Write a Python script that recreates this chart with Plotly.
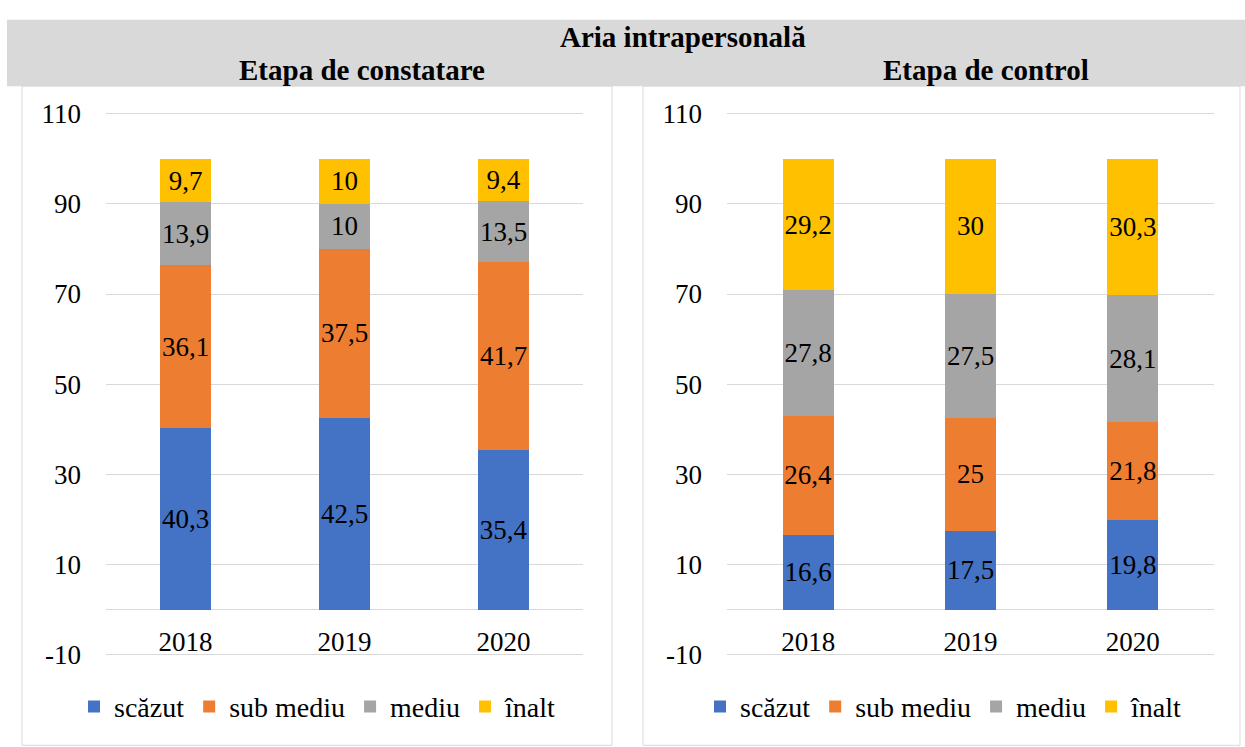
import plotly.graph_objects as go

years = ["2018", "2019", "2020"]
series = ["scăzut", "sub mediu", "mediu", "înalt"]
colors = ["#4472C4", "#ED7D31", "#A5A5A5", "#FFC000"]

constatare_scazut = [40.3, 42.5, 35.4]
constatare_sub_mediu = [36.1, 37.5, 41.7]
constatare_mediu = [13.9, 10, 13.5]
constatare_inalt = [9.7, 10, 9.4]

control_scazut = [16.6, 17.5, 19.8]
control_sub_mediu = [26.4, 25, 21.8]
control_mediu = [27.8, 27.5, 28.1]
control_inalt = [29.2, 30, 30.3]

title_main = "Aria intrapersonală"
title_left = "Etapa de constatare"
title_right = "Etapa de control"
y_ticks = [-10, 10, 30, 50, 70, 90, 110]
y_tick_labels = ["-10", "10", "30", "50", "70", "90", "110"]

W, H = 1245, 747
FONT = "Liberation Serif, Times New Roman, serif"
FS = 27


def px(x):
    return x / W


def py(y):
    return (H - y) / H


def fmt(v):
    return ("%g" % v).replace(".", ",")


fig = go.Figure()
panels = [
    ([constatare_scazut, constatare_sub_mediu, constatare_mediu, constatare_inalt], "x", "y", "legend"),
    ([control_scazut, control_sub_mediu, control_mediu, control_inalt], "x2", "y2", "legend2"),
]
for data, xa, ya, lg in panels:
    for name, vals, col in zip(series, data, colors):
        fig.add_trace(go.Bar(
            x=years, y=vals, name=name, marker=dict(color=col, line=dict(width=0)),
            text=[fmt(v) for v in vals], textposition="inside", insidetextanchor="middle",
            textfont=dict(family=FONT, size=FS, color="black"), textangle=0,
            constraintext="none", cliponaxis=False,
            xaxis=xa, yaxis=ya, legend=lg,
        ))

# -10 at y=662px, 110 at y=108px; range padded so edge gridlines are drawn
ppu = (662 - 108) / 120.0
pad = 1.5
ydom = [py(662 + pad * ppu), py(108 - pad * ppu)]
y_zero_px = 662 - 10 * ppu
yax = dict(range=[-10 - pad, 110 + pad], tickvals=y_ticks, ticktext=y_tick_labels,
           showgrid=True, gridcolor="#D9D9D9", gridwidth=1,
           zeroline=True, zerolinecolor="#D9D9D9", zerolinewidth=1, showline=False,
           tickfont=dict(family=FONT, size=FS, color="black"), ticks="", ticklabelstandoff=24,
           domain=ydom, fixedrange=True)
xax = dict(showgrid=False, showline=False, ticks="", anchor="free", position=py(y_zero_px),
           ticklabelstandoff=13,
           tickfont=dict(family=FONT, size=FS, color="black"), fixedrange=True)

legend_common = dict(orientation="h", xanchor="center", y=py(715), yanchor="middle",
                     font=dict(family=FONT, size=28, color="black"), traceorder="normal",
                     itemwidth=30, bgcolor="rgba(0,0,0,0)")

fig.update_layout(
    width=W, height=H, margin=dict(l=0, r=0, t=0, b=0),
    paper_bgcolor="white", plot_bgcolor="white",
    barmode="stack", bargap=0.685,
    font=dict(family=FONT, size=FS, color="black"),
    xaxis=dict(xax, domain=[px(106), px(583)]),
    xaxis2=dict(xax, domain=[px(727), px(1214)]),
    yaxis=dict(yax, anchor="x"),
    yaxis2=dict(yax, anchor="x2"),
    legend=dict(legend_common, x=px(318)),
    legend2=dict(legend_common, x=px(944)),
    showlegend=True,
    shapes=[
        dict(type="rect", xref="paper", yref="paper", x0=px(7), x1=1.0, y0=py(80), y1=py(12),
             fillcolor="#D9D9D9", line=dict(width=0), layer="below"),
        dict(type="rect", xref="paper", yref="paper", x0=px(22), x1=px(612), y0=-0.01, y1=py(80),
             fillcolor="rgba(0,0,0,0)", line=dict(color="#D9D9D9", width=1), layer="below"),
        dict(type="rect", xref="paper", yref="paper", x0=px(643), x1=px(1240), y0=-0.01, y1=py(80),
             fillcolor="rgba(0,0,0,0)", line=dict(color="#D9D9D9", width=1), layer="below"),
    ],
    annotations=[
        dict(text="<b>%s</b>" % title_main, x=px(683), y=py(30), xref="paper", yref="paper",
             xanchor="center", yanchor="middle", showarrow=False,
             font=dict(family=FONT, size=29, color="black")),
        dict(text="<b>%s</b>" % title_left, x=px(362), y=py(63), xref="paper", yref="paper",
             xanchor="center", yanchor="middle", showarrow=False,
             font=dict(family=FONT, size=29, color="black")),
        dict(text="<b>%s</b>" % title_right, x=px(986), y=py(63), xref="paper", yref="paper",
             xanchor="center", yanchor="middle", showarrow=False,
             font=dict(family=FONT, size=29, color="black")),
    ],
)

fig.write_html("out.html", config={"displayModeBar": False},
               post_script="document.body.style.margin='0';")
